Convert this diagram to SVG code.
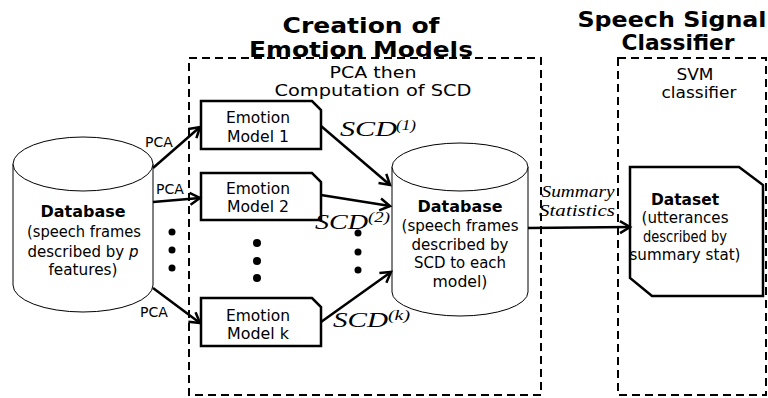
<svg xmlns="http://www.w3.org/2000/svg" width="768" height="398" viewBox="0 0 768 398">
<defs>
<marker id="ah" markerUnits="userSpaceOnUse" markerWidth="16" markerHeight="16" refX="12" refY="8" orient="auto">
<path d="M2,2 L12,8 L2,14" fill="none" stroke="#000" stroke-width="2.5"/>
</marker>
<style>
.bg{fill:#fff}
.zone{fill:none;stroke:#000;stroke-width:2;stroke-dasharray:8 5}
.title{font-family:"DejaVu Sans",Verdana,sans-serif;font-weight:bold;font-size:21px;text-anchor:middle;fill:#000}
.sub{font-family:"DejaVu Sans",sans-serif;font-size:15px;text-anchor:middle;fill:#000}
.t{font-family:"DejaVu Sans",sans-serif;font-size:15px;text-anchor:middle;fill:#000}
.b{font-weight:bold}
.cyl{fill:#fff;stroke:#000;stroke-width:1}
.box{fill:#fff;stroke:#000;stroke-width:2.5}
.pca{font-family:"DejaVu Sans",sans-serif;font-size:14px;text-anchor:middle;fill:#000}
.scd{font-family:"Liberation Serif","Times New Roman",serif;font-style:italic;fill:#000}
.edge{fill:none;stroke:#000;stroke-width:2.5;marker-end:url(#ah)}
.dot{fill:#000}
</style>
</defs>
<rect class="bg" x="0" y="0" width="768" height="398"/>

<g id="zone-emotion">
<rect class="zone" x="189" y="58" width="352" height="337"/>
<text class="title" x="361" y="33" textLength="157" lengthAdjust="spacingAndGlyphs">Creation of</text>
<text class="title" x="361" y="57" textLength="224" lengthAdjust="spacingAndGlyphs">Emotion Models</text>
<text class="sub" x="373" y="78" textLength="87" lengthAdjust="spacingAndGlyphs">PCA then</text>
<text class="sub" x="373" y="96" textLength="197" lengthAdjust="spacingAndGlyphs">Computation of SCD</text>
</g>

<g id="zone-classifier">
<rect class="zone" x="618" y="58" width="148" height="337"/>
<text class="title" x="672" y="27" textLength="189" lengthAdjust="spacingAndGlyphs">Speech Signal</text>
<text class="title" x="678" y="50" textLength="113" lengthAdjust="spacingAndGlyphs">Classifier</text>
<text class="sub" x="695" y="80" textLength="37" lengthAdjust="spacingAndGlyphs">SVM</text>
<text class="sub" x="699" y="98" textLength="75" lengthAdjust="spacingAndGlyphs">classifier</text>
</g>

<g id="db-frames">
<path class="cyl" d="M13,164 L13,285 A70,27 0 0 0 153,285 L153,164 A70,27 0 0 0 13,164 Z"/>
<path class="cyl" d="M13,164 A70,27 0 0 0 153,164"/>
<text class="t b" x="83" y="217" textLength="85" lengthAdjust="spacingAndGlyphs">Database</text>
<text class="t" x="84" y="237" textLength="114" lengthAdjust="spacingAndGlyphs">(speech frames</text>
<text class="t" x="83" y="257" textLength="111" lengthAdjust="spacingAndGlyphs">described by <tspan font-style="italic">p</tspan></text>
<text class="t" x="83" y="275" textLength="69" lengthAdjust="spacingAndGlyphs">features)</text>
</g>

<g id="model-1">
<path class="box" d="M201,101 L312,101 L321,110 L321,149 L201,149 Z"/>
<text class="t" x="258" y="123" textLength="64" lengthAdjust="spacingAndGlyphs">Emotion</text>
<text class="t" x="258" y="142" textLength="62" lengthAdjust="spacingAndGlyphs">Model 1</text>
</g>

<g id="model-2">
<path class="box" d="M201,173 L312,173 L321,182 L321,220 L201,220 Z"/>
<text class="t" x="258" y="194" textLength="64" lengthAdjust="spacingAndGlyphs">Emotion</text>
<text class="t" x="258" y="212" textLength="62" lengthAdjust="spacingAndGlyphs">Model 2</text>
</g>

<g id="model-k">
<path class="box" d="M201,298 L312,298 L321,307 L321,346 L201,346 Z"/>
<text class="t" x="258" y="321" textLength="64" lengthAdjust="spacingAndGlyphs">Emotion</text>
<text class="t" x="258" y="339" textLength="62" lengthAdjust="spacingAndGlyphs">Model k</text>
</g>

<g id="db-scd">
<path class="cyl" d="M392,167 L392,292 A68,24 0 0 0 528,292 L528,167 A68,24 0 0 0 392,167 Z"/>
<path class="cyl" d="M392,167 A68,24 0 0 0 528,167"/>
<text class="t b" x="460" y="212" textLength="85" lengthAdjust="spacingAndGlyphs">Database</text>
<text class="t" x="460" y="231" textLength="117" lengthAdjust="spacingAndGlyphs">(speech frames</text>
<text class="t" x="460" y="250" textLength="97" lengthAdjust="spacingAndGlyphs">described by</text>
<text class="t" x="460" y="268" textLength="92" lengthAdjust="spacingAndGlyphs">SCD to each</text>
<text class="t" x="460" y="287" textLength="55" lengthAdjust="spacingAndGlyphs">model)</text>
</g>

<g id="dataset">
<path class="box" d="M630,167 L739,167 L763,185 L763,296 L652,296 L630,278 Z"/>
<text class="t b" x="685" y="205" textLength="68" lengthAdjust="spacingAndGlyphs">Dataset</text>
<text class="t" x="685" y="223" textLength="87" lengthAdjust="spacingAndGlyphs">(utterances</text>
<text class="t" x="685" y="242" textLength="84" lengthAdjust="spacingAndGlyphs">described by</text>
<text class="t" x="685" y="260" textLength="111" lengthAdjust="spacingAndGlyphs">summary stat)</text>
</g>

<g id="ellipses">
<circle class="dot" cx="172" cy="232" r="3.5"/>
<circle class="dot" cx="172" cy="250" r="3.5"/>
<circle class="dot" cx="172" cy="268" r="3.5"/>
<circle class="dot" cx="257" cy="243" r="4"/>
<circle class="dot" cx="257" cy="261" r="4"/>
<circle class="dot" cx="257" cy="278" r="4"/>
<circle class="dot" cx="358" cy="233" r="3.5"/>
<circle class="dot" cx="358" cy="252" r="3.5"/>
<circle class="dot" cx="358" cy="270" r="3.5"/>
</g>

<g id="connectors">
<line class="edge" x1="153" y1="168" x2="200" y2="127"/>
<line class="edge" x1="153" y1="202" x2="200" y2="198"/>
<line class="edge" x1="153" y1="288" x2="200" y2="323"/>
<line class="edge" x1="321" y1="126" x2="390" y2="185"/>
<line class="edge" x1="321" y1="195" x2="390" y2="206"/>
<line class="edge" x1="321" y1="322" x2="391" y2="272"/>
<line class="edge" x1="528" y1="228" x2="630" y2="227"/>
<text class="pca" x="159" y="147">PCA</text>
<text class="pca" x="170" y="194">PCA</text>
<text class="pca" x="154" y="317">PCA</text>
<text class="scd" x="340" y="136" font-size="22" textLength="57" lengthAdjust="spacingAndGlyphs">SCD</text>
<text class="scd" x="396" y="130" font-size="15" textLength="20" lengthAdjust="spacingAndGlyphs">(1)</text>
<text class="scd" x="315" y="229" font-size="22" textLength="53" lengthAdjust="spacingAndGlyphs">SCD</text>
<text class="scd" x="368" y="222" font-size="15" textLength="22" lengthAdjust="spacingAndGlyphs">(2)</text>
<text class="scd" x="333" y="327" font-size="22" textLength="55" lengthAdjust="spacingAndGlyphs">SCD</text>
<text class="scd" x="388" y="320" font-size="15" textLength="22" lengthAdjust="spacingAndGlyphs">(k)</text>
<text class="scd" x="578" y="197" font-size="17" text-anchor="middle" textLength="73" lengthAdjust="spacingAndGlyphs">Summary</text>
<text class="scd" x="577" y="216" font-size="17" text-anchor="middle" textLength="76" lengthAdjust="spacingAndGlyphs">Statistics</text>
</g>
</svg>
